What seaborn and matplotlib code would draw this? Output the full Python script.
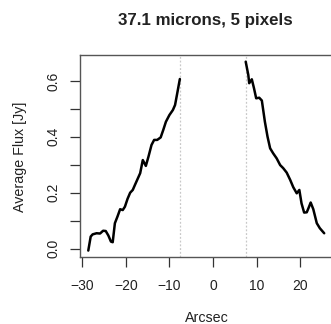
import matplotlib
matplotlib.use("Agg")
import matplotlib.pyplot as plt
import seaborn as sns
import numpy as np
import pandas as pd

title = "37.1 microns, 5 pixels"
xlabel = "Arcsec"
ylabel = "Average Flux [Jy]"

left_x = [-28.6, -28.05, -27.6, -26.7, -25.9, -25.2, -24.6, -24.0, -23.4, -23.0,
          -22.5, -21.9, -21.3, -20.7, -20.2, -19.6, -19.0, -18.4, -17.9, -17.3,
          -16.7, -16.1, -15.4, -14.8, -14.1, -13.5, -12.8, -12.0, -11.4, -10.8,
          -10.0, -9.2, -8.7, -8.2, -7.6]
left_y = [-0.007, 0.043, 0.051, 0.055, 0.054, 0.064, 0.063, 0.047, 0.025, 0.023,
          0.091, 0.115, 0.141, 0.138, 0.150, 0.178, 0.200, 0.210, 0.228, 0.249,
          0.270, 0.317, 0.296, 0.329, 0.371, 0.389, 0.389, 0.398, 0.425, 0.454,
          0.478, 0.496, 0.514, 0.556, 0.607]
right_x = [7.5, 8.1, 8.3, 8.9, 9.4, 9.9, 10.6, 11.2, 11.9, 12.5, 13.1, 13.8, 14.6,
           15.4, 16.1, 16.9, 17.7, 18.4, 19.2, 19.8, 20.3, 20.9, 21.5, 21.9, 22.4,
           23.0, 23.8, 24.5, 25.5]
right_y = [0.669, 0.621, 0.592, 0.606, 0.574, 0.538, 0.540, 0.530, 0.454, 0.401,
           0.359, 0.341, 0.323, 0.299, 0.288, 0.272, 0.246, 0.220, 0.198, 0.210,
           0.162, 0.129, 0.130, 0.145, 0.165, 0.141, 0.091, 0.073, 0.055]
aperture_edges = [-7.6, 7.6]
xticks = [-30, -20, -10, 0, 10, 20]
yticks = [0.0, 0.1, 0.2, 0.3, 0.4, 0.5, 0.6]
ytick_labels = ["0.0", "", "0.2", "", "0.4", "", "0.6"]

sns.set_style("white")
plt.rcParams["font.family"] = ["Liberation Sans", "DejaVu Sans"]

W, H = 331, 324
fig = plt.figure(figsize=(W / 100, H / 100), dpi=100)
ax = fig.add_axes([80 / W, 1 - 257 / H, 1 - 80 / W, (257 - 54.7) / H])

df_l = pd.DataFrame({"x": left_x, "y": left_y})
df_r = pd.DataFrame({"x": right_x, "y": right_y})
sns.lineplot(data=df_l, x="x", y="y", ax=ax, color="black", lw=1.8, sort=False)
sns.lineplot(data=df_r, x="x", y="y", ax=ax, color="black", lw=1.8, sort=False)
for xv in aperture_edges:
    ax.axvline(xv, color="#c8c8c8", lw=0.9, ls=(0, (1.5, 1.5)), zorder=0)

ax.set_xlim(-30.5, 27.06)
ax.set_ylim(-0.030, 0.694)
ax.set_xticks(xticks)
ax.set_xticklabels([str(t).replace("-", "\u2212") for t in xticks])
ax.set_yticks(yticks)
ax.set_yticklabels(ytick_labels, rotation=90, va="center")
ax.tick_params(axis="both", direction="out", length=7, width=0.9, color="#333333",
               labelsize=10, labelcolor="#222222")
ax.tick_params(axis="x", pad=9)
ax.tick_params(axis="y", pad=7)
ax.tick_params(left=True, bottom=True)
for s in ["left", "top", "bottom"]:
    ax.spines[s].set_color("#555555")
    ax.spines[s].set_linewidth(1.0)
ax.spines["right"].set_visible(False)
ax.set_xlabel("")
ax.set_ylabel("")

fig.text(205.7 / W, 1 - 21 / H, title, ha="center", va="center",
         fontsize=12.2, fontweight="bold", color="#222222")
fig.text(206.7 / W, 1 - 318 / H, xlabel, ha="center", va="center",
         fontsize=10.3, color="#222222")
fig.text(20 / W, 1 - 156.7 / H, ylabel, ha="center", va="center", rotation=90,
         fontsize=10.3, color="#222222")

fig.savefig("out.png", dpi=100)
